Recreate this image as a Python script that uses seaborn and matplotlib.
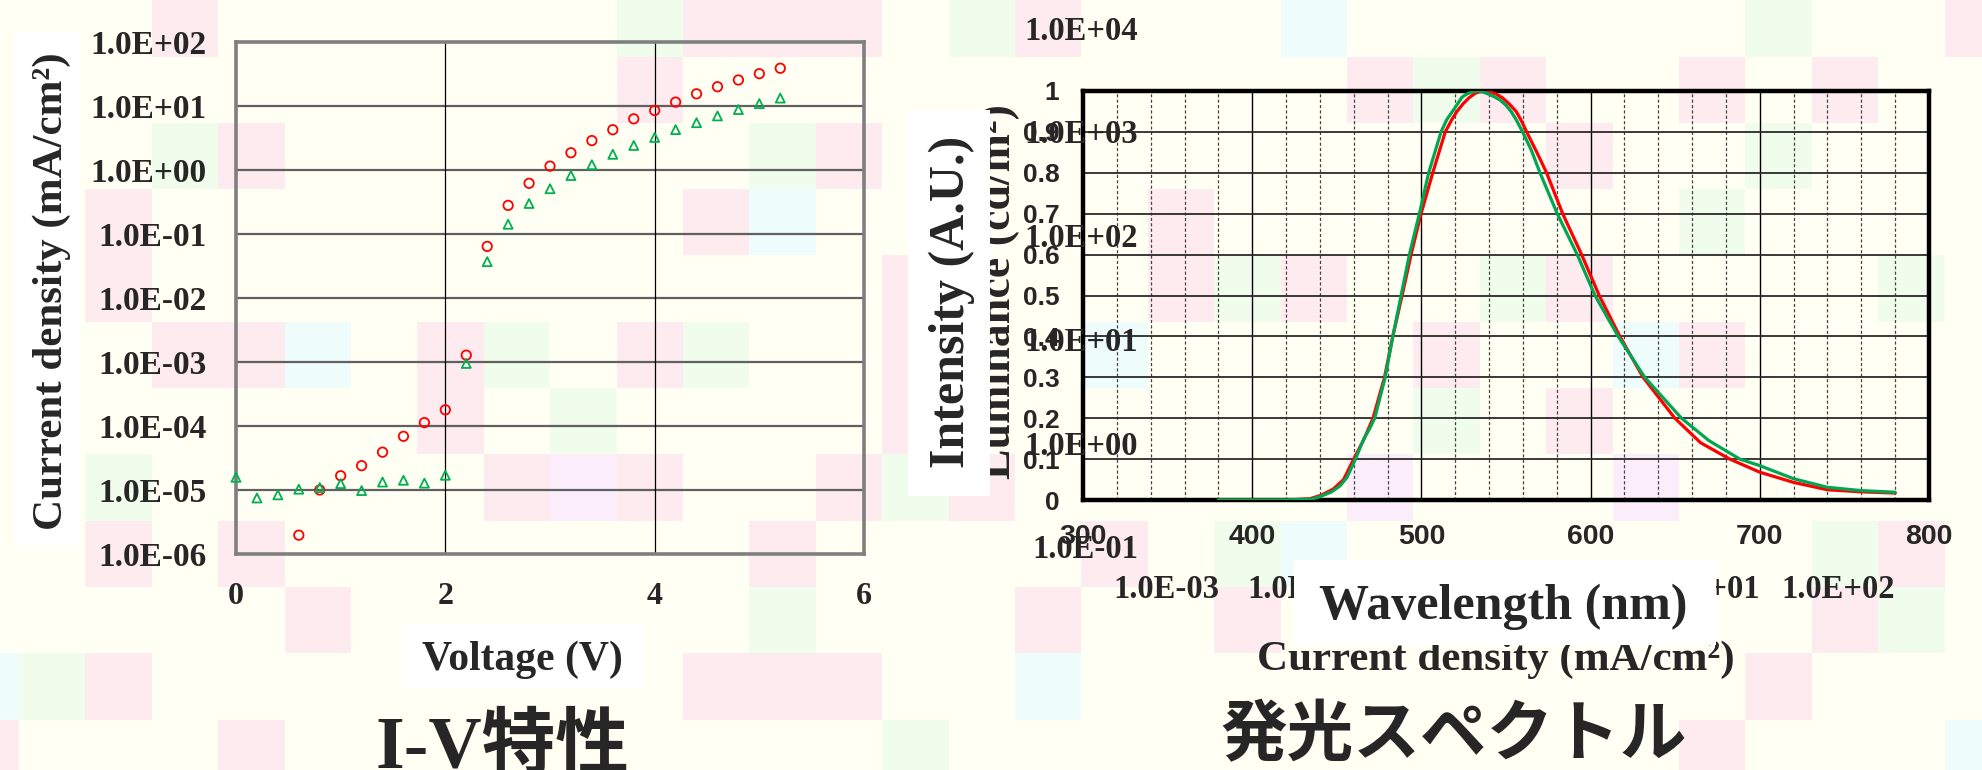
import matplotlib
matplotlib.use("Agg")
import numpy as np
import pandas as pd
import matplotlib.pyplot as plt
import seaborn as sns
from matplotlib.patches import Rectangle
from matplotlib.ticker import FixedLocator, FuncFormatter, MultipleLocator

# ---------------- data ----------------
# I-V characteristics (current density, mA/cm2)
voltage_red = [0.6, 0.8, 1.0, 1.2, 1.4, 1.6, 1.8, 2.0, 2.2, 2.4, 2.6, 2.8, 3.0,
               3.2, 3.4, 3.6, 3.8, 4.0, 4.2, 4.4, 4.6, 4.8, 5.0, 5.2]
current_red = [1.97e-6, 1.0e-5, 1.67e-5, 2.4e-5, 3.9e-5, 6.9e-5, 1.13e-4, 1.79e-4,
               1.28e-3, 6.4e-2, 0.28, 0.62, 1.15, 1.86, 2.88, 4.26, 6.3, 8.5,
               11.5, 15.5, 20.0, 25.5, 32.0, 38.9]
voltage_green = [0.0, 0.2, 0.4, 0.6, 0.8, 1.0, 1.2, 1.4, 1.6, 1.8, 2.0, 2.2, 2.4,
                 2.6, 2.8, 3.0, 3.2, 3.4, 3.6, 3.8, 4.0, 4.2, 4.4, 4.6, 4.8, 5.0, 5.2]
current_green = [1.58e-5, 7.5e-6, 8.4e-6, 1.03e-5, 1.09e-5, 1.26e-5, 9.8e-6, 1.33e-5,
                 1.42e-5, 1.28e-5, 1.7e-5, 9.5e-4, 3.7e-2, 0.142, 0.30, 0.51, 0.82,
                 1.21, 1.76, 2.42, 3.23, 4.28, 5.48, 7.0, 8.8, 10.9, 13.3]
iv_yticks = [1e-6, 1e-5, 1e-4, 1e-3, 1e-2, 1e-1, 1e0, 1e1, 1e2]
iv_xticks = [0, 2, 4, 6]

# EL spectra (normalised intensity)
wl_red = [380, 420, 434, 441, 448, 454, 460, 466, 471.4, 478.2, 483.1, 488.6, 493.9,
          499.8, 506.7, 514.1, 518, 521, 524.5, 528, 532, 536, 540, 544, 548, 552,
          556, 559, 562.2, 568, 574, 583.5, 594.7, 605.1, 617.3, 631, 649.8, 665,
          682.3, 700, 720, 740, 760, 780]
int_red = [0.0, 0.0, 0.003, 0.012, 0.027, 0.05, 0.10, 0.148, 0.2, 0.3, 0.4, 0.5, 0.6,
           0.7, 0.8, 0.9, 0.93, 0.95, 0.968, 0.983, 0.995, 1.0, 0.998, 0.993, 0.983,
           0.968, 0.95, 0.928, 0.9, 0.852, 0.8, 0.7, 0.6, 0.5, 0.4, 0.3, 0.2, 0.14,
           0.1, 0.068, 0.043, 0.025, 0.02, 0.017]
wl_green = [380, 400, 420, 435, 440, 447, 452, 456, 461, 466, 469.5, 472.4, 478.6,
            483.1, 488, 492.9, 498.8, 504.3, 511.6, 515, 520, 524, 527, 530, 533, 536,
            540, 543, 546.5, 550, 553, 556, 559.8, 565, 570.1, 580.3, 592.1, 602.6,
            616.3, 632, 653.7, 670, 688.2, 700, 720, 740, 760, 780]
int_green = [0.0, 0.0, 0.0, 0.002, 0.008, 0.02, 0.035, 0.055, 0.10, 0.15, 0.175, 0.2,
             0.3, 0.4, 0.5, 0.6, 0.7, 0.8, 0.9, 0.93, 0.96, 0.985, 0.993, 0.998, 1.0,
             0.998, 0.992, 0.986, 0.978, 0.965, 0.95, 0.93, 0.9, 0.855, 0.8, 0.7, 0.6,
             0.5, 0.4, 0.3, 0.2, 0.145, 0.1, 0.084, 0.052, 0.031, 0.023, 0.019]
spec_yticklabels = ["0", "0.1", "0.2", "0.3", "0.4", "0.5", "0.6", "0.7", "0.8", "0.9", "1"]
spec_xticks = [300, 400, 500, 600, 700, 800]

# labels of the luminance chart lying underneath
lum_ylabels = ["1.0E+04", "1.0E+03", "1.0E+02", "1.0E+01", "1.0E+00", "1.0E-01"]
lum_xlabels = ["1.0E-03", "1.0E-02", "1.0E-01", "1.0E+00", "1.0E+01", "1.0E+02"]

# ---------------- page styling ----------------
TILE_ROWS = [
    "...p......gppp.gp...c......g..p",
    "..........p..........pgp..p.p..",
    "...gp.......gp..........p..g...",
    "..p........pc.....p.......g....",
    "..p...........p...pgp..gp....g.",
    "...ppc.pg.pg..p..c....p..cp....",
    ".......p.g....p.......g.p......",
    "..g.....plp..pgp.....l...l.....",
    "..p.p.......p....p.gc.......gp.",
    ".....p......g...p..p........pg.",
    "cgp........ppp..c..........p...",
    "p...p.........g...........p...c",
]
TILE_COLORS = {"p": "#fdebef", "g": "#f1fdec", "c": "#eefdfc", "l": "#fbeefa"}
CREAM = "#fffff3"

sns.set_style("white")
plt.rcParams["font.family"] = ["Liberation Serif", "Noto Sans CJK JP", "DejaVu Sans"]

W, H = 1983, 770
fig = plt.figure(figsize=(W / 100, H / 100), dpi=100)
fig.patch.set_facecolor(CREAM)


def fpos(x, y):
    return x / W, 1 - y / H


# tiled backdrop
bg = fig.add_axes([0, 0, 1, 1], zorder=-10)
bg.set_xlim(0, W)
bg.set_ylim(H, 0)
bg.axis("off")
for r, row in enumerate(TILE_ROWS):
    for c, ch in enumerate(row):
        if ch in TILE_COLORS:
            bg.add_patch(Rectangle((-47.4 + 66.4 * c, -9.8 + 66.3 * r), 66.4, 66.3,
                                   facecolor=TILE_COLORS[ch], edgecolor="none", lw=0))

# ---------------- I-V chart ----------------
ax1 = fig.add_axes([236 / W, 1 - 554 / H, 628 / W, 512 / H])
ax1.set_facecolor("none")
iv_red = pd.DataFrame({"V": voltage_red, "J": current_red})
iv_green = pd.DataFrame({"V": voltage_green, "J": current_green})
sns.scatterplot(data=iv_red, x="V", y="J", ax=ax1, marker="o", s=46, color="red",
                linewidth=1.3, zorder=5, clip_on=False)
sns.scatterplot(data=iv_green, x="V", y="J", ax=ax1, marker="^", s=42, color="#00b050",
                linewidth=1.3, zorder=5, clip_on=False)
for coll, col in zip(ax1.collections, ["red", "#00b050"]):
    coll.set_facecolor("none")
    coll.set_edgecolor(col)
ax1.set_yscale("log")
ax1.set_ylim(1e-6, 1e2)
ax1.set_xlim(0, 6)
ax1.yaxis.set_major_locator(FixedLocator(iv_yticks))
ax1.yaxis.set_minor_locator(FixedLocator([]))
ax1.yaxis.set_major_formatter(FuncFormatter(lambda v, _: f"{v:.1E}"))
ax1.xaxis.set_major_locator(FixedLocator(iv_xticks))
ax1.set_xlabel("")
ax1.set_ylabel("")
ax1.grid(False)
for v in iv_yticks[1:-1]:
    ax1.axhline(v, color="#606060", lw=1.6, zorder=1)
for v in iv_xticks[1:-1]:
    ax1.axvline(v, color="black", lw=0.9, zorder=1)
for sp in ax1.spines.values():
    sp.set_color("#7f7f7f")
    sp.set_linewidth(2.6)
ax1.tick_params(axis="y", direction="in", length=7, width=2, color="#555555", pad=21,
                labelsize=24)
ax1.tick_params(axis="x", direction="in", length=0, pad=20, labelsize=23)
for lab in ax1.get_xticklabels() + ax1.get_yticklabels():
    lab.set_fontweight("bold")
    lab.set_family("Liberation Serif")

# ---------------- spectrum chart ----------------
ax2 = fig.add_axes([1083 / W, 1 - 500 / H, 846 / W, 409 / H])
ax2.set_facecolor("none")
sns.lineplot(x=wl_red, y=int_red, ax=ax2, color="#ff0000", linewidth=2.3,
             estimator=None, sort=False, zorder=4)
sns.lineplot(x=wl_green, y=int_green, ax=ax2, color="#00a651", linewidth=2.3,
             estimator=None, sort=False, zorder=5)
ax2.set_xlim(300, 800)
ax2.set_ylim(0, 1)
ax2.xaxis.set_major_locator(FixedLocator(spec_xticks))
ax2.xaxis.set_minor_locator(MultipleLocator(20))
ax2.set_yticks(np.linspace(0, 1, 11))
ax2.set_yticklabels(spec_yticklabels)
ax2.set_axisbelow(True)
ax2.grid(False)
ax2.grid(axis="y", which="major", color="#2a2a2a", lw=1.3)
ax2.grid(axis="x", which="major", color="black", lw=1.0)
ax2.grid(axis="x", which="minor", color="#444444", lw=0.9, linestyle=(0, (2.5, 1.8)))
for sp in ax2.spines.values():
    sp.set_color("black")
    sp.set_linewidth(3.2)
ax2.tick_params(axis="both", which="both", length=0)
ax2.tick_params(axis="y", pad=17, labelsize=19)
ax2.tick_params(axis="x", pad=17, labelsize=20.5)
for lab in ax2.get_xticklabels() + ax2.get_yticklabels():
    lab.set_fontweight("bold")
    lab.set_family("Liberation Sans")
ax2.set_xlabel("")
ax2.set_ylabel("")

# ---------------- luminance chart labels underneath ----------------
serif_b = dict(family=["Liberation Serif", "Noto Sans CJK JP"], fontweight="bold")
for i, s in enumerate(lum_ylabels):
    fig.text(*fpos(1138, 31 + 103.8 * i), s, ha="right", va="center", fontsize=23.5,
             zorder=4, **serif_b)
for i, s in enumerate(lum_xlabels):
    fig.text(*fpos(1166 + 134.4 * i, 589), s, ha="center", va="center", fontsize=23.5,
             zorder=4, **serif_b)
fig.text(*fpos(1010, 292), "Luminance (cd/m²)", rotation=90, rotation_mode="anchor",
         ha="center", va="baseline", fontsize=33, zorder=4, **serif_b)
fig.text(*fpos(1496, 660), "Current density (mA/cm²)", ha="center", va="center",
         fontsize=31, zorder=4, **serif_b)

# white label boxes
for (x0, y0, x1, y1) in [(14, 32, 80, 545), (402, 624, 643, 688),
                         (908, 110, 990, 496), (1294, 560, 1716, 645)]:
    fig.patches.append(Rectangle(fpos(x0, y1), (x1 - x0) / W, (y1 - y0) / H,
                                 transform=fig.transFigure, facecolor="white",
                                 edgecolor="none", zorder=5))

# axis titles
fig.text(*fpos(52, 291), "Current density (mA/cm²)", rotation=90, rotation_mode="anchor",
         ha="center", va="center", fontsize=31, zorder=6, **serif_b)
fig.text(*fpos(522, 660), "Voltage (V)", ha="center", va="center", fontsize=30,
         zorder=6, **serif_b)
fig.text(*fpos(952, 302), "Intensity (A.U.)", rotation=90, rotation_mode="anchor",
         ha="center", va="center", fontsize=36, zorder=6, **serif_b)
fig.text(*fpos(1503, 607), "Wavelength (nm)", ha="center", va="center", fontsize=36,
         zorder=6, **serif_b)

# slide captions
fig.text(*fpos(502, 768), "I-V特性", ha="center", va="baseline", fontsize=53,
         zorder=6, **serif_b)
fig.text(*fpos(1454, 755), "発光スペクトル", ha="center", va="baseline", fontsize=48,
         family=["Noto Sans CJK JP"], fontweight="bold", zorder=6)

fig.savefig("out.png", dpi=100, facecolor=fig.get_facecolor())
